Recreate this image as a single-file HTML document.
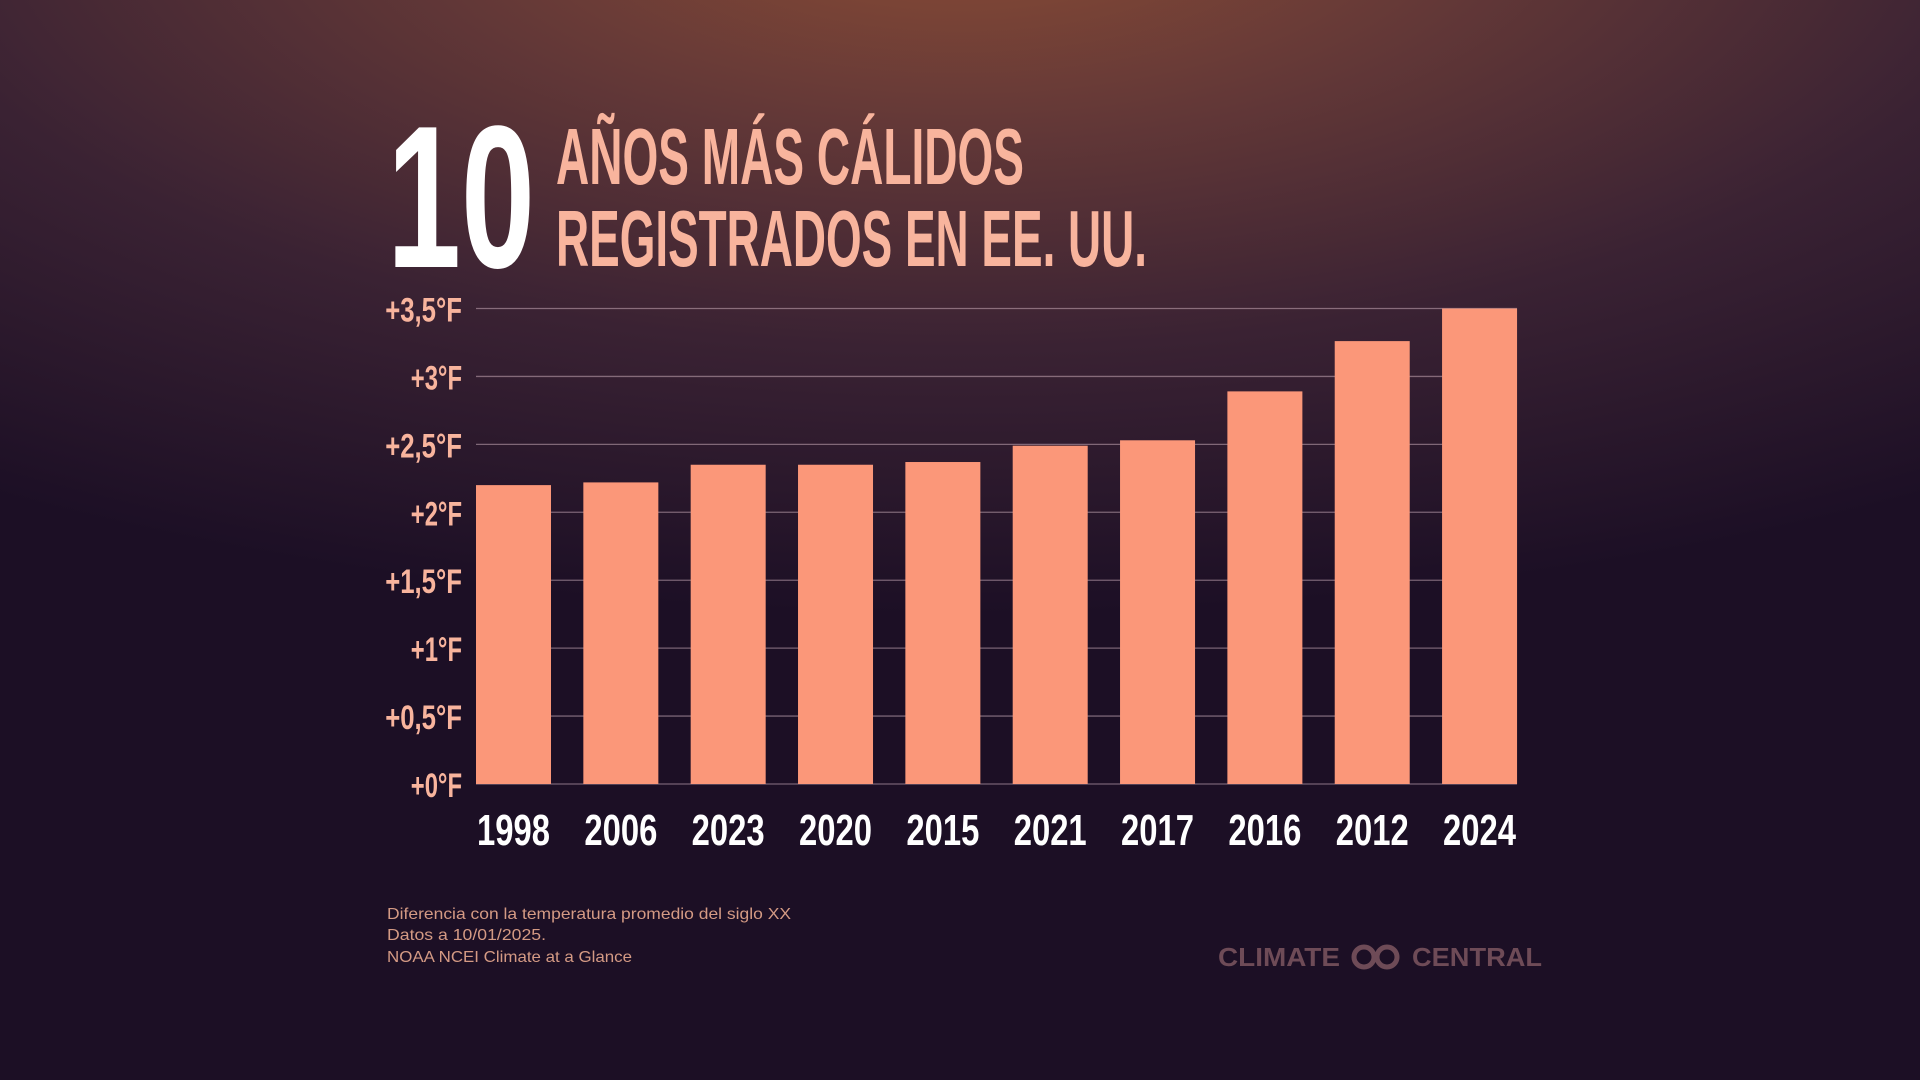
<!DOCTYPE html>
<html><head><meta charset="utf-8"><style>
html,body{margin:0;padding:0;width:1920px;height:1080px;overflow:hidden}
body{background:radial-gradient(ellipse 90% 65% at 50% -8%,#8c4d36 0%,#613737 32%,#3a2233 62%,#1c0f25 100%),#1a0e24}
svg{position:absolute;left:0;top:0}
</style></head><body>
<svg width="1920" height="1080">
<text x="387" y="267" font-family="Liberation Sans, sans-serif" font-weight="bold" font-size="203" fill="#ffffff" textLength="148" lengthAdjust="spacingAndGlyphs">10</text>
<text x="556" y="184" font-family="Liberation Sans, sans-serif" font-weight="bold" font-size="80" fill="#f8b49d" textLength="468" lengthAdjust="spacingAndGlyphs">AÑOS MÁS CÁLIDOS</text>
<text x="556" y="266" font-family="Liberation Sans, sans-serif" font-weight="bold" font-size="80" fill="#f8b49d" textLength="591" lengthAdjust="spacingAndGlyphs">REGISTRADOS EN EE. UU.</text>
<g id="grid"></g><g id="bars"></g><g id="ylab"></g><g id="xlab"></g>
<g font-family="Liberation Sans, sans-serif" font-size="16" fill="#d49a84">
<text x="387" y="919" textLength="404" lengthAdjust="spacingAndGlyphs">Diferencia con la temperatura promedio del siglo XX</text>
<text x="387" y="940" textLength="159" lengthAdjust="spacingAndGlyphs">Datos a 10/01/2025.</text>
<text x="387" y="962" textLength="245" lengthAdjust="spacingAndGlyphs">NOAA NCEI Climate at a Glance</text>
</g>
<g fill="#6e4b57" font-family="Liberation Sans, sans-serif" font-weight="bold" font-size="26">
<text x="1218" y="966" textLength="122" lengthAdjust="spacingAndGlyphs">CLIMATE</text>
<circle cx="1364" cy="957" r="10" fill="none" stroke="#6e4b57" stroke-width="5"/>
<circle cx="1387" cy="957" r="10" fill="none" stroke="#6e4b57" stroke-width="5"/>
<text x="1412" y="966" textLength="130" lengthAdjust="spacingAndGlyphs">CENTRAL</text>
</g>
</svg>
<script>
const years=["1998","2006","2023","2020","2015","2021","2017","2016","2012","2024"];
const values=[2.20,2.22,2.35,2.35,2.37,2.49,2.53,2.89,3.26,3.50];
const ticks=[0,0.5,1,1.5,2,2.5,3,3.5];
const tickLabels=["+0°F","+0,5°F","+1°F","+1,5°F","+2°F","+2,5°F","+3°F","+3,5°F"];
const NS="http://www.w3.org/2000/svg";
const x0=476,x1=1517,y0=784,yTop=308.5,vMax=3.5;
const step=(x1-x0+ (107.4-75))/years.length, bw=75;
function y(v){return y0-(v/vMax)*(y0-yTop);}
function xb(i){return x0+i*step;}
function mk(tag,attrs,parent){const e=document.createElementNS(NS,tag);for(const k in attrs)e.setAttribute(k,attrs[k]);parent.appendChild(e);return e;}
const grid=document.getElementById('grid'),bars=document.getElementById('bars'),yl=document.getElementById('ylab'),xl=document.getElementById('xlab');
ticks.forEach((t,i)=>{
  const l=mk('line',{x1:x0,x2:x1,y1:y(t),y2:y(t),stroke:'rgba(230,200,210,0.45)','stroke-width':1.3},grid);
  
  
  const s=tickLabels[i];
  const tx=mk('text',{x:462,y:y(t)+13,'text-anchor':'end','font-family':'Liberation Sans, sans-serif','font-weight':'bold','font-size':34,fill:'#f8b49d',textLength:s.length*12.8,lengthAdjust:'spacingAndGlyphs'},yl);
  tx.textContent=s;
  
  
});
years.forEach((yr,i)=>{
  const r=mk('rect',{x:xb(i),y:y(values[i]),width:bw,height:y0-y(values[i]),fill:'#fb9779'},bars);
  
  
  const tx=mk('text',{x:xb(i)+bw/2,y:845,'text-anchor':'middle','font-family':'Liberation Sans, sans-serif','font-weight':'bold','font-size':44,fill:'#ffffff',textLength:73,lengthAdjust:'spacingAndGlyphs'},xl);
  tx.textContent=yr;
  
  
});
</script>
</body></html>
